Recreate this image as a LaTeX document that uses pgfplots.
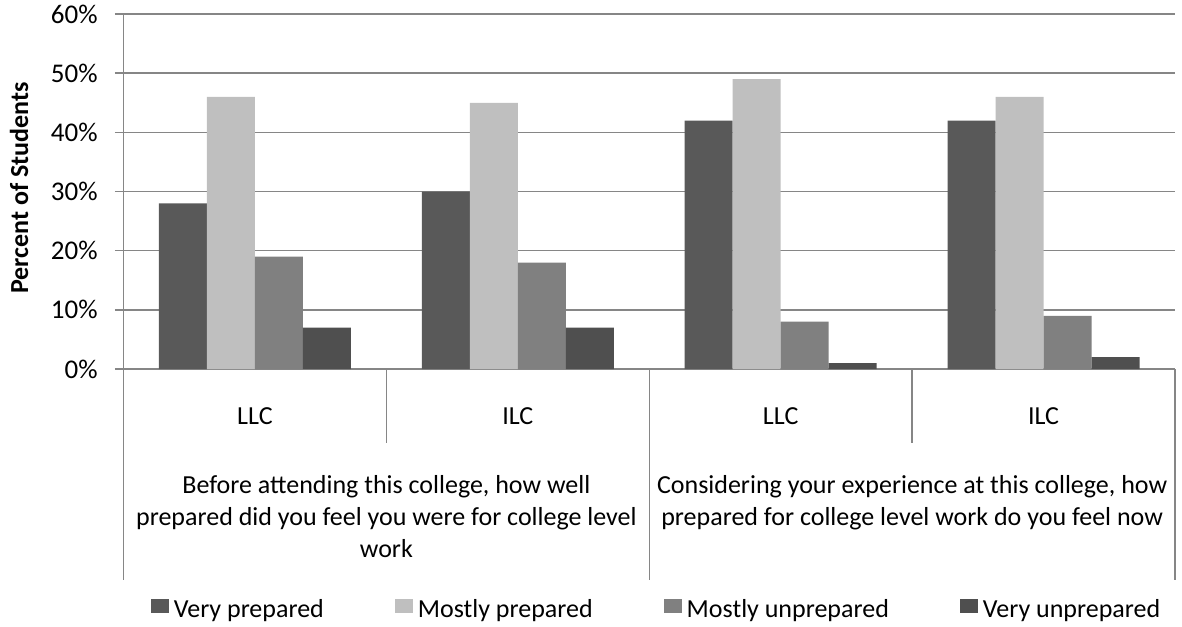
\documentclass[border=0pt]{standalone}
\usepackage{fontspec}
\setmainfont{Carlito}
\usepackage{pgfplots}
\pgfplotsset{compat=1.18}

\definecolor{axgray}{HTML}{868686}
\definecolor{vp}{HTML}{595959}
\definecolor{mp}{HTML}{BFBFBF}
\definecolor{mu}{HTML}{808080}
\definecolor{vu}{HTML}{4F4F4F}

\begin{document}
\begin{tikzpicture}
\useasboundingbox (-61.75pt,-128.5pt) rectangle (529.25pt,184.5pt);
\begin{axis}[
    at={(0,0)}, anchor=south west,
    scale only axis,
    width=525.75pt, height=177.5pt,
    ybar=0pt, bar width=24pt,
    xmin=-0.5, xmax=3.5,
    ymin=0, ymax=60,
    ytick={0,10,...,60},
    yticklabel={\pgfmathprintnumber{\tick}\%},
    /pgf/number format/assume math mode=true,
    xtick={0,1,2,3},
    xticklabels={LLC,ILC,LLC,ILC},
    xtick style={draw=none},
    xticklabel style={anchor=center, yshift=-19.5pt},
    ytick pos=left,
    tick align=outside,
    major tick length=4.25pt,
    ytick style={draw=axgray, line width=0.75pt},
    yticklabel style={anchor=east, inner sep=0pt, xshift=-8.5pt, font=\fontsize{13.5}{16}\selectfont},
    axis lines*=left,
    axis line style={draw=axgray, line width=0.75pt},
    ymajorgrids,
    grid style={draw=axgray, line width=0.75pt},
    ylabel={\bfseries Percent of Students},
    ylabel style={at={([xshift=-52.25pt]rel axis cs:0,0.51)}, anchor=center, rotate=0},
    xticklabel style={font=\fontsize{13}{15.6}\selectfont},
    label style={font=\fontsize{13}{15.6}\selectfont},
    clip=false,
    legend style={at={([yshift=-120.5pt]rel axis cs:0.506,0)}, anchor=center,
        draw=none, legend columns=4, font=\fontsize{13}{15.6}\selectfont,
        nodes={inner xsep=0pt},
        /tikz/every odd column/.append style={column sep=2.5pt},
        /tikz/every even column/.append style={column sep=35.5pt}},
    legend image code/.code={\fill[#1,draw=none] (0pt,-1.5pt) rectangle (9pt,5.5pt);},
]
\addplot[fill=vp, draw=none] coordinates {(0,28) (1,30) (2,42) (3,42)};
\addplot[fill=mp, draw=none] coordinates {(0,46) (1,45) (2,49) (3,46)};
\addplot[fill=mu, draw=none] coordinates {(0,19) (1,18) (2,8) (3,9)};
\addplot[fill=vu, draw=none] coordinates {(0,7) (1,7) (2,1) (3,2)};
\legend{Very prepared, Mostly prepared, Mostly unprepared, Very unprepared}

% category axis separators
\draw[axgray, line width=0.75pt] (axis cs:-0.5,0) -- ([yshift=-105.5pt]axis cs:-0.5,0);
\draw[axgray, line width=0.75pt] (axis cs:1.5,0) -- ([yshift=-105.5pt]axis cs:1.5,0);
\draw[axgray, line width=0.75pt] (axis cs:3.5,0) -- ([yshift=-105.5pt]axis cs:3.5,0);
\draw[axgray, line width=0.75pt] (axis cs:0.5,0) -- ([yshift=-36.85pt]axis cs:0.5,0);
\draw[axgray, line width=0.75pt] (axis cs:2.5,0) -- ([yshift=-36.85pt]axis cs:2.5,0);

\node[anchor=north, inner sep=0pt, align=center, font=\fontsize{13}{16}\selectfont]
    at ([yshift=-53pt]axis cs:0.5,0)
    {Before attending this college, how well\\prepared did you feel you were for college level\\work};
\node[anchor=north, inner sep=0pt, align=center, font=\fontsize{13}{16}\selectfont]
    at ([yshift=-53pt]axis cs:2.5,0)
    {Considering your experience at this college, how\\prepared for college level work do you feel now};
\end{axis}
\end{tikzpicture}
\end{document}
